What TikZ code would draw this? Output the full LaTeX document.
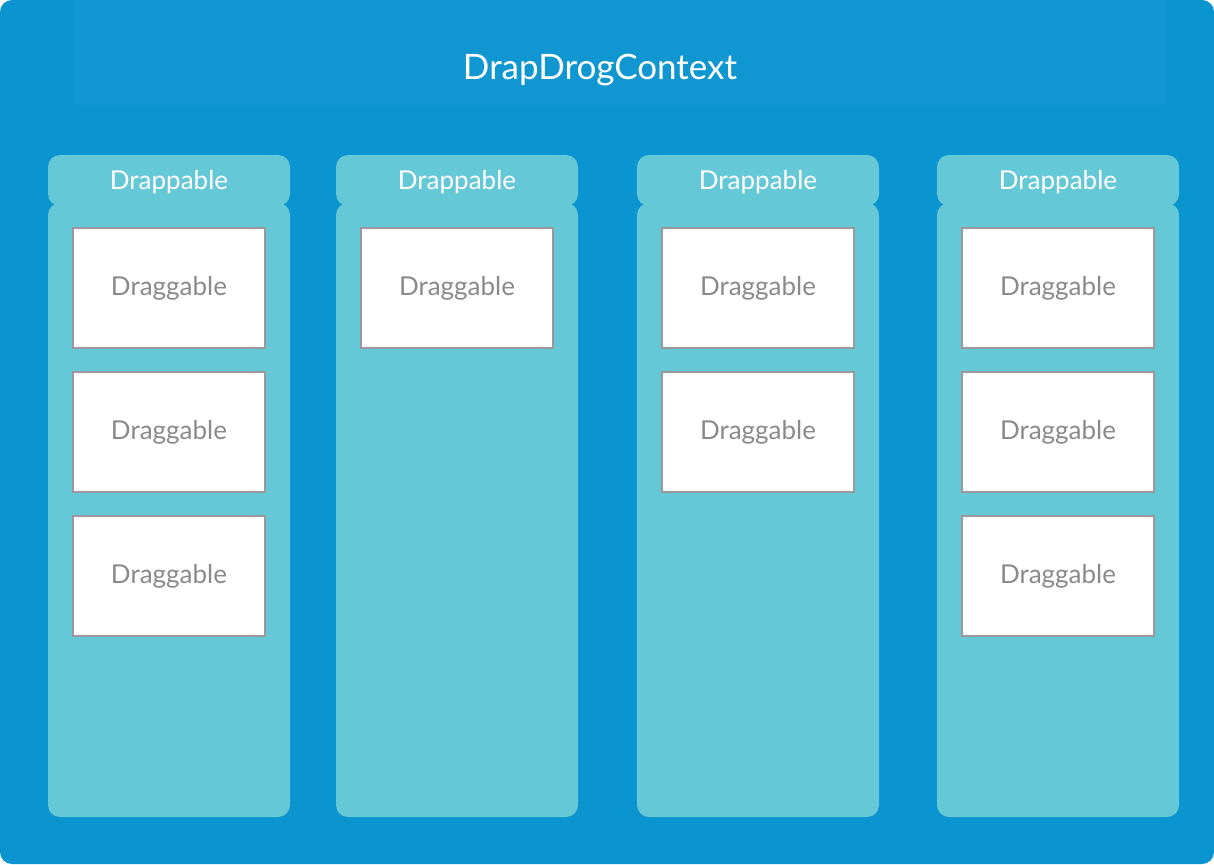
\documentclass[tikz,border=0pt]{standalone}
\usepackage{fontspec}
\setmainfont{Lato}
\definecolor{outer}{HTML}{0A94D0}
\definecolor{hdr}{HTML}{1097D1}
\definecolor{col}{HTML}{64C8D6}
\definecolor{gbord}{HTML}{999999}
\definecolor{gtext}{HTML}{8A8A8A}
\begin{document}
\begin{tikzpicture}[x=1pt,y=-1pt,
  colbox/.style={fill=col,rounded corners=12pt},
  drg/.style={draw=gbord,line width=2pt,fill=white,minimum width=192pt,minimum height=120pt,text=gtext,font=\fontsize{26}{30}\selectfont,inner sep=0pt},
  lbl/.style={text=white,font=\fontsize{26}{30}\selectfont}]
\useasboundingbox (0,0) rectangle (1214,864);
\fill[outer,rounded corners=12pt] (0,0) rectangle (1214,864);
\fill[hdr] (74,0) rectangle (1166,105);
\node[text=white,font=\fontsize{35}{40}\selectfont] (title) at (600,70) {DrapDrogContext};
\foreach \x/\n/\k in {48/a/3,336/b/1,637/c/2,937/d/3}{
  \fill[colbox] (\x,155) rectangle (\x+242,206);
  \fill[colbox] (\x,203) rectangle (\x+242,817);
  \node[lbl] (h\n) at (\x+121,182) {Drappable};
  \foreach \i in {1,...,\k}{
    \node[drg] (\n\i) at (\x+121,288+144*\i-144) {Draggable};
  }
}
\end{tikzpicture}
\end{document}
